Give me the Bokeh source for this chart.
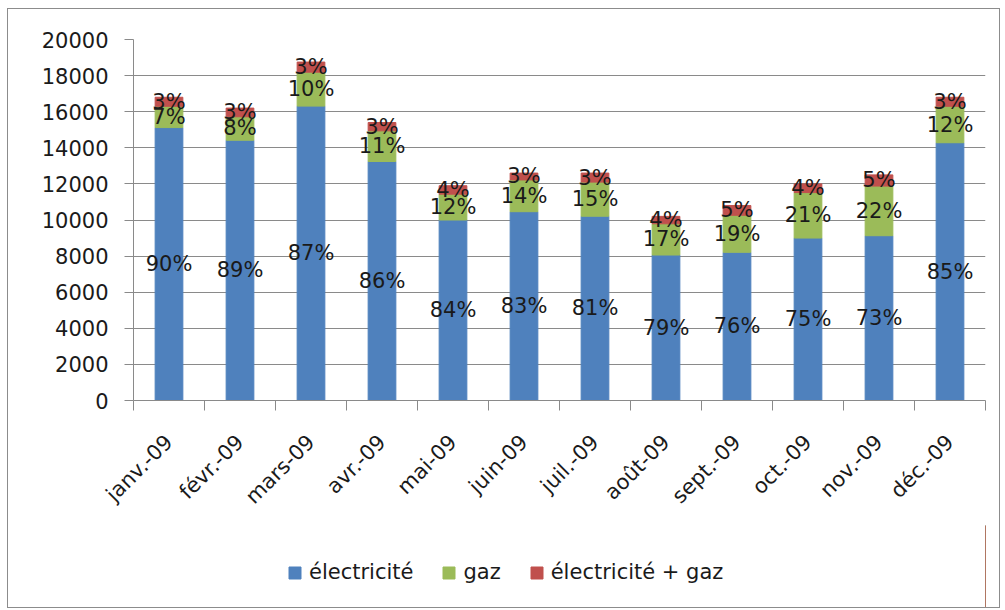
import math
from bokeh.plotting import figure
from bokeh.layouts import column
from bokeh.models import ColumnDataSource, FixedTicker, Legend, LegendItem, Range1d
from bokeh.core.properties import value
from bokeh.embed import file_html
from bokeh.resources import INLINE

months = ["janv.-09", "févr.-09", "mars-09", "avr.-09", "mai-09", "juin-09",
          "juil.-09", "août-09", "sept.-09", "oct.-09", "nov.-09", "déc.-09"]
elec = [15120, 14420, 16310, 13240, 10000, 10460, 10210, 8060, 8210, 9000, 9130, 14280]
gaz = [1180, 1300, 1880, 1700, 1430, 1760, 1890, 1730, 2050, 2520, 2750, 2020]
both = [500, 480, 560, 460, 470, 380, 500, 410, 540, 480, 620, 500]
pct_elec = ["90%", "89%", "87%", "86%", "84%", "83%", "81%", "79%", "76%", "75%", "73%", "85%"]
pct_gaz = ["7%", "8%", "10%", "11%", "12%", "14%", "15%", "17%", "19%", "21%", "22%", "12%"]
pct_both = ["3%", "3%", "3%", "3%", "4%", "3%", "3%", "4%", "5%", "4%", "5%", "3%"]
series = ["électricité", "gaz", "électricité + gaz"]
y_ticks = list(range(0, 20001, 2000))

FONT = "DejaVu Sans"
FS = "21px"
TXT = "#1a1a1a"
GREY = "#8a8a8a"
C_ELEC, C_GAZ, C_BOTH = "#4F81BD", "#9BBB59", "#C0504D"
colors = [C_ELEC, C_GAZ, C_BOTH]

xc = [i + 0.5 for i in range(len(months))]
b1 = [e + g for e, g in zip(elec, gaz)]
b2 = [e + g + b for e, g, b in zip(elec, gaz, both)]
src = ColumnDataSource(dict(
    x=xc, elec=elec, gaz=gaz, both=both, b1=b1, b2=b2,
    y_e=[e / 2 for e in elec],
    y_g=[e + g / 2 for e, g in zip(elec, gaz)],
    y_b=[s - b / 2 for s, b in zip(b2, both)],
    t_e=pct_elec, t_g=pct_gaz, t_b=pct_both,
))

p = figure(width=991, height=516, x_range=Range1d(0, 12), y_range=Range1d(0, 20000),
           output_backend="svg", toolbar_location=None,
           min_border_left=125, min_border_right=14, min_border_top=30, min_border_bottom=125)
p.outline_line_color = None

W = 0.39
p.vbar(x="x", bottom=0, top="elec", width=W, color=C_ELEC, source=src)
p.vbar(x="x", bottom="elec", top="b1", width=W, color=C_GAZ, source=src)
p.vbar(x="x", bottom="b1", top="b2", width=W, color=C_BOTH, source=src)

for col_y, col_t in (("y_e", "t_e"), ("y_g", "t_g"), ("y_b", "t_b")):
    p.text(x="x", y=col_y, text=col_t, source=src, text_align="center",
           text_baseline="middle", text_font=value(FONT), text_font_size=FS,
           text_color=TXT)

# axes
p.xgrid.visible = False
p.ygrid.grid_line_color = GREY
p.ygrid.grid_line_width = 1

p.yaxis.ticker = FixedTicker(ticks=y_ticks)
p.yaxis.minor_tick_line_color = None
p.yaxis.major_tick_in = 0
p.yaxis.major_tick_out = 9
p.yaxis.major_label_standoff = 16
p.yaxis.axis_line_color = GREY
p.yaxis.major_tick_line_color = GREY
p.yaxis.major_label_text_font = FONT
p.yaxis.major_label_text_font_size = FS
p.yaxis.major_label_text_color = TXT

p.xaxis.ticker = FixedTicker(ticks=xc, minor_ticks=list(range(13)))
p.xaxis.major_label_overrides = {x: m for x, m in zip(xc, months)}
p.xaxis.major_tick_line_color = None
p.xaxis.minor_tick_in = 0
p.xaxis.minor_tick_out = 10
p.xaxis.minor_tick_line_color = GREY
p.xaxis.axis_line_color = GREY
p.xaxis.major_label_orientation = math.pi / 4
p.xaxis.major_label_standoff = 28
p.xaxis.major_label_text_font = FONT
p.xaxis.major_label_text_font_size = FS
p.xaxis.major_label_text_color = TXT

# legend in a separate strip below
q = figure(width=991, height=82, x_range=Range1d(0, 1), y_range=Range1d(0, 1),
           output_backend="svg", toolbar_location=None, min_border=0)
q.axis.visible = False
q.grid.visible = False
q.outline_line_color = None
items = []
for name, c in zip(series, colors):
    r = q.vbar(x=[5], top=[1], width=0.5, color=c)
    items.append(LegendItem(label=name, renderers=[r]))
legend = Legend(items=items, orientation="horizontal", location=(154, 23))
legend.border_line_color = None
legend.background_fill_alpha = 0
legend.label_text_font = FONT
legend.label_text_font_size = FS
legend.label_text_color = TXT
legend.glyph_width = 15
legend.glyph_height = 15
legend.spacing = 28
legend.label_standoff = 7
legend.padding = 10
q.add_layout(legend, "center")

layout = column(p, q, spacing=0)
layout.styles = {"border": "1px solid #8c8c8c", "margin-left": "7px", "margin-top": "8px"}
open("out.html", "w").write(file_html(layout, INLINE))
